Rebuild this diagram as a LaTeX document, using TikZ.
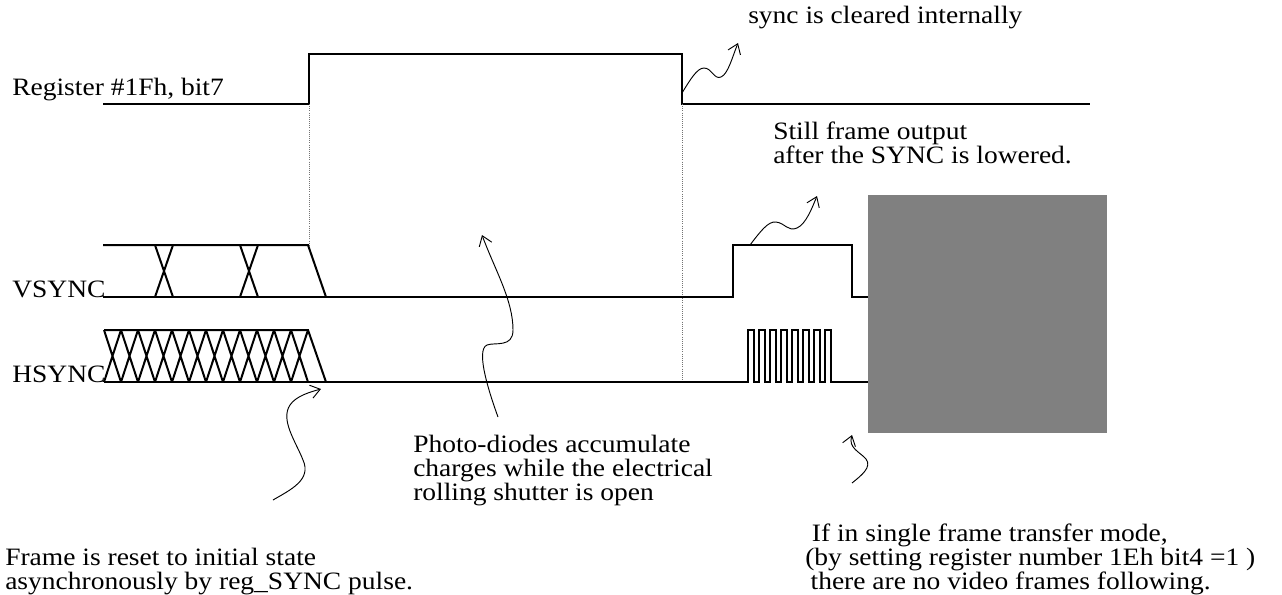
\documentclass[tikz,border=0pt]{standalone}
\usepackage{fontspec}
\setmainfont{Liberation Serif}[FakeStretch=1.1]
\usetikzlibrary{arrows.meta}
\definecolor{boxgray}{HTML}{808080}
\tikzset{
  sig/.style={line width=1.5pt, line join=miter},
  guide/.style={densely dotted, line width=0.6pt, black!55},
  squig/.style={-{Straight Barb[length=7pt,width=10pt]}, line width=0.7pt},
  lbl/.style={inner sep=0pt, anchor=base west, font=\fontsize{18.75}{18}\selectfont},
  note/.style={lbl, anchor=north west, align=left},
}

\begin{document}
\begin{tikzpicture}[x=0.75pt, y=-0.75pt]
  \useasboundingbox (0,0) rectangle (1282,594);

  % signal names
  \node[lbl] (reg) at (12,95) {Register \#1Fh, bit7};
  \node[lbl] (vs) at (12,297) {VSYNC};
  \node[lbl] (hs) at (12,382) {HSYNC};

  % register bit
  \draw[sig] (103,104) -- (309,104) -- (309,54) -- (682,54) -- (682,104) -- (1090,104);
  \draw[guide] (309,104) -- (309,245);
  \draw[guide] (682,104) -- (682,380);

  % vsync
  \draw[sig] (103,245) -- (308,245) -- (326,297);
  \draw[sig] (103,297) -- (733,297) -- (733,245) -- (852,245) -- (852,297) -- (868,297);
  \foreach \x in {155,240}
    \draw[sig] (\x,245) -- ++(18,52) (\x,297) -- ++(18,-52);

  % hsync
  \draw[sig] (104,330) -- (308,330) -- (326,382);
  \draw[sig] (104,382) -- (748,382)
    foreach \i in {1,...,8} { -- ++(0,-52) -- ++(6,0) -- ++(0,52) -- ++(5,0) } -- (868,382);
  \foreach \i in {0,...,11}
    \draw[sig] (104+17*\i,330) -- ++(17,52) (104+17*\i,382) -- ++(17,-52);

  % no more frames
  \fill[boxgray] (868,195) rectangle (1107,433);

  % notes
  \node[lbl] (clr) at (748,23) {sync is cleared internally};
  \node[note] (still) at (773,122) {Still frame output\\after the SYNC is lowered.};
  \node[note] (photo) at (413,435) {Photo-diodes accumulate\\charges while the electrical\\rolling shutter is open};
  \node[note] (reset) at (5,548) {Frame is reset to initial state\\asynchronously by reg\_SYNC pulse.};
  \node[note] (single) at (805,524) {\hspace*{5pt}If in single frame transfer mode,\\(by setting register number 1Eh bit4 =1 )\\\hspace*{4pt}there are no video frames following.};

  \coordinate (clrA) at (682,93);   \coordinate (clrB) at (738,43);
  \coordinate (stillA) at (750,245); \coordinate (stillB) at (817,196);
  \coordinate (photoA) at (498,417); \coordinate (photoB) at (482,235);
  \coordinate (resetA) at (273,500); \coordinate (resetB) at (321,389);
  \coordinate (singleA) at (852,483); \coordinate (singleB) at (852,435);

  \draw[squig] (clrA) .. controls (690,80) and (697,68) .. (704,68)
    .. controls (712,68) and (714,80) .. (721,77) .. controls (728,74) and (732,58) .. (clrB);
  \draw[squig] (stillA) .. controls (760,232) and (768,221) .. (776,222)
    .. controls (785,223) and (788,232) .. (797,228) .. controls (806,224) and (812,208) .. (stillB);
  \draw[squig] (photoA) .. controls (490,395) and (475,350) .. (487,345)
    .. controls (495,342) and (513,348) .. (513,330) .. controls (513,300) and (495,270) .. (photoB);
  \draw[squig] (resetA) .. controls (290,490) and (312,480) .. (303,460)
    .. controls (296,442) and (280,420) .. (290,405) .. controls (296,396) and (310,392) .. (resetB);
  \draw[squig] (singleA) .. controls (862,475) and (872,467) .. (866,459)
    .. controls (860,452) and (848,448) .. (singleB);
\end{tikzpicture}
\end{document}
